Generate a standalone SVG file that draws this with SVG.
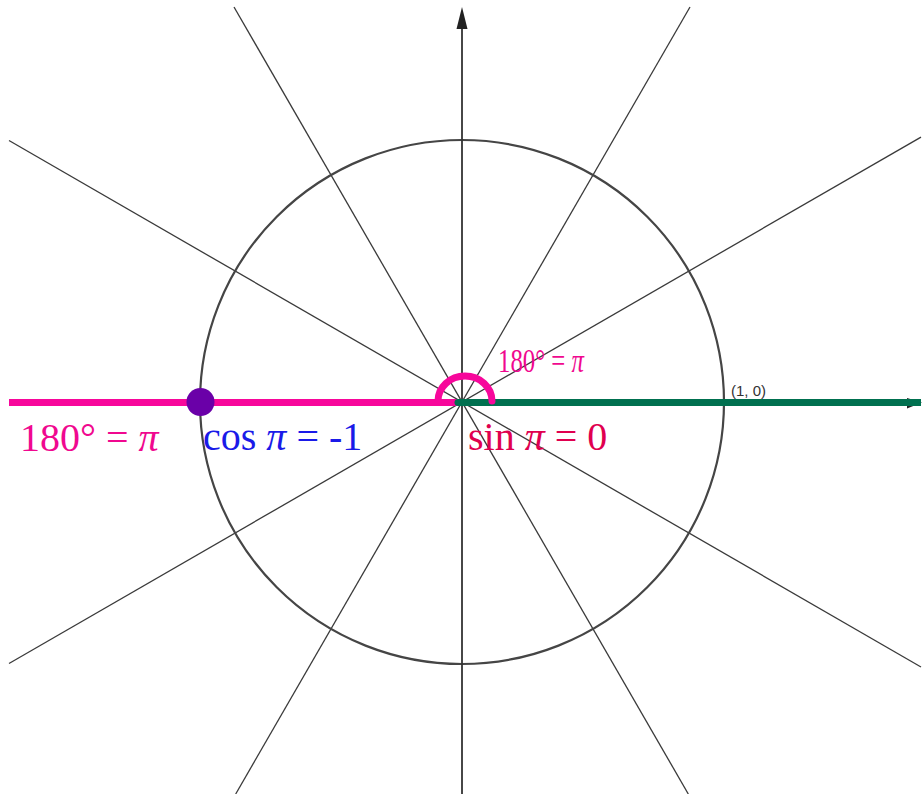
<svg xmlns="http://www.w3.org/2000/svg" width="923" height="794" viewBox="0 0 923 794">
<defs>
<style>
.ray{stroke:#3a3a3a;stroke-width:1.3;fill:none}
.math{font-family:"Liberation Serif","Times New Roman",serif}
.it{font-style:italic}
</style>
</defs>
<rect width="923" height="794" fill="#ffffff"/>
<g id="rays">
<line class="ray" x1="9" y1="663.5" x2="921" y2="137.1"/>
<line class="ray" x1="9" y1="140.5" x2="921" y2="667"/>
<line class="ray" x1="234" y1="7" x2="688.3" y2="794"/>
<line class="ray" x1="690" y1="7" x2="235.7" y2="794"/>
</g>
<g id="circle">
<circle cx="462" cy="402" r="262" fill="none" stroke="#454545" stroke-width="2.2"/>
</g>
<g id="axes">
<line x1="462" y1="794" x2="462" y2="26" stroke="#333" stroke-width="1.8"/>
<polygon points="462,7 456.5,29 467.5,29" fill="#222"/>
<polygon points="922,402.5 907,398 907,408.5" fill="#222"/>
</g>
<g id="pink-axis">
<line x1="9" y1="402.5" x2="458" y2="402.5" stroke="#f7079b" stroke-width="7"/>
</g>
<g id="green-axis">
<line x1="458" y1="402.5" x2="921" y2="402.5" stroke="#00704f" stroke-width="7"/>
<circle cx="458" cy="402.5" r="3.5" fill="#00704f"/>
</g>
<g id="angle-arc">
<path d="M 438 401 A 27 25 0 0 1 492 401" fill="none" stroke="#f7079b" stroke-width="7" stroke-linecap="round"/>
</g>
<g id="point">
<circle cx="200.5" cy="402" r="14" fill="#6a00a8"/>
</g>
<g id="labels">
<text transform="translate(498,372) scale(0.73,1)" class="math" font-size="34" fill="#f0088f">180° = <tspan class="it">π</tspan></text>
<text x="20" y="451" class="math" font-size="40" fill="#f0088f">180° = <tspan class="it">π</tspan></text>
<text x="203" y="450" class="math" font-size="40" fill="#1a1ae8">cos <tspan class="it">π</tspan> = -1</text>
<text x="468" y="450" class="math" font-size="40" fill="#e0004f">sin <tspan class="it">π</tspan> = 0</text>
<text x="731" y="396" font-family="Liberation Sans, Arial, sans-serif" font-size="15" fill="#333">(1, 0)</text>
</g>
</svg>
